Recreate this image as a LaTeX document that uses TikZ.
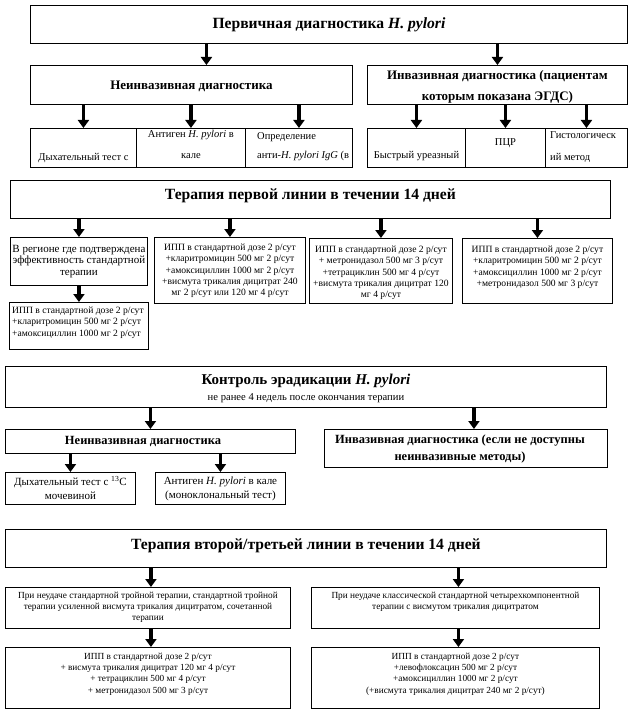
\documentclass[tikz,border=0pt]{standalone}
\usepackage{fontspec}
\setmainfont{Liberation Serif}
\usetikzlibrary{arrows.meta}
\tikzset{
  box/.style={draw, line width=0.9pt, inner sep=0pt, anchor=north west},
  arr/.style={line width=3.9pt, -{Triangle[width=11pt,length=8pt]}},
  txt/.style={inner sep=0pt},
  hd/.style={txt, font=\fontsize{15.6}{18}\selectfont\bfseries},
  hdc/.style={txt, font=\fontsize{15}{18}\selectfont\bfseries},
  hb/.style={txt, font=\fontsize{13}{21}\selectfont\bfseries, align=center},
  hbc/.style={txt, font=\fontsize{12.5}{17}\selectfont\bfseries, align=center},
  sm/.style={txt, font=\fontsize{10.5}{13}\selectfont},
  mid/.style={font=\fontsize{11}{11.7}\selectfont, align=center},
  tx/.style={txt, font=\fontsize{9.6}{11.2}\selectfont},
  tn/.style={txt, font=\fontsize{9.3}{11.2}\selectfont, align=center},
  gl/.style={font=\fontsize{11}{14}\selectfont, align=center}
}
\begin{document}
\begin{tikzpicture}[x=1pt,y=-1pt]
\useasboundingbox (0,0) rectangle (633,719);
% ---------- Row A
\node[box,minimum width=597pt,minimum height=38pt] (b1) at (30,5) {};
\node[hd,anchor=base] at (b1.center |- 0,29) {Первичная диагностика \textit{H. pylori}};
% ---------- Row B
\node[box,minimum width=322pt,minimum height=39pt] (ni) at (30,65) {};
\node[box,minimum width=260pt,minimum height=39pt] (inv) at (367,65) {};
\node[hb] at ([yshift=-1pt]ni.center) {Неинвазивная диагностика};
\node[hb] at ([yshift=-2pt]inv.center) {Инвазивная диагностика (пациентам\\которым показана ЭГДС)};
\coordinate (a1) at ([xshift=15pt]ni.north);
\draw[arr] (b1.south -| a1) -- (a1);
\draw[arr] (b1.south -| inv.north) -- (inv.north);
% ---------- Row C
\node[box,minimum width=106pt,minimum height=39pt] (c1) at (30,128) {};
\node[box,minimum width=109pt,minimum height=39pt] (c2) at (136,128) {};
\node[box,minimum width=107pt,minimum height=39pt] (c3) at (245,128) {};
\node[box,minimum width=98pt,minimum height=39pt] (r1) at (367,128) {};
\node[box,minimum width=80pt,minimum height=39pt] (r2) at (465,128) {};
\node[box,minimum width=82pt,minimum height=39pt] (r3) at (545,128) {};
\foreach \c in {c1,c2,c3} \draw[arr] (ni.south -| \c.north) -- (\c.north);
\foreach \c in {r1,r2,r3} \draw[arr] (inv.south -| \c.north) -- (\c.north);
\node[sm,anchor=base] at (c1.center |- 0,161) {Дыхательный тест с};
\node[sm,anchor=base] at (c2.center |- 0,138) {Антиген \textit{H. pylori} в};
\node[sm,anchor=base] at (c2.center |- 0,159) {кале};
\begin{scope}
\clip (c3.north west) rectangle (c3.south east);
\node[sm,anchor=base west] at (257,140) {Определение};
\node[sm,anchor=base west] at (257,159) {анти-\textit{H. pylori IgG} (в};
\end{scope}
\node[sm,anchor=base] at (r1.center |- 0,159) {Быстрый уреазный};
\node[sm,anchor=base] at (r2.center |- 0,146) {ПЦР};
\node[sm,anchor=base west] at (550,139) {Гистологическ};
\node[sm,anchor=base west] at (550,161) {ий метод};
% ---------- Row D
\node[box,minimum width=600pt,minimum height=38pt] (t1) at (10,180) {};
\node[hd,anchor=base] at (t1.center |- 0,200) {Терапия первой линии в течении 14 дней};
% ---------- Row E
\node[box,minimum width=137pt,minimum height=48pt,mid] (e1) at (10,237) {В регионе где подтверждена\\эффективность стандартной\\терапии};
\node[box,minimum width=139pt,minimum height=47pt] (e1b) at (9,302) {};
\node[box,minimum width=151pt,minimum height=66pt] (e2) at (154,237) {};
\node[box,minimum width=143pt,minimum height=65pt] (e3) at (309,238) {};
\node[box,minimum width=150pt,minimum height=65pt] (e4) at (462,238) {};
\foreach \c in {e1,e2,e3,e4} \draw[arr] (t1.south -| \c.north) -- (\c.north);
\draw[arr] (e1.south -| e1b.north) -- (e1b.north);
\node[tx,align=left,anchor=north west] at (12,307) {ИПП в стандартной дозе 2 р/сут\\+кларитромицин 500 мг 2 р/сут\\+амоксициллин 1000 мг 2 р/сут};
\node[tx,align=center,anchor=north] at (e2.north |- 0,244) {ИПП в стандартной дозе 2 р/сут\\+кларитромицин 500 мг 2 р/сут\\+амоксициллин 1000 мг 2 р/сут\\+висмута трикалия дицитрат 240\\мг 2 р/сут или 120 мг 4 р/сут};
\node[tx,align=center,anchor=north] at (e3.north |- 0,246) {ИПП в стандартной дозе 2 р/сут\\+ метронидазол 500 мг 3 р/сут\\+тетрациклин 500 мг 4 р/сут\\+висмута трикалия дицитрат 120\\мг 4 р/сут};
\node[tx,align=center,anchor=north] at (e4.north |- 0,246) {ИПП в стандартной дозе 2 р/сут\\+кларитромицин 500 мг 2 р/сут\\+амоксициллин 1000 мг 2 р/сут\\+метронидазол 500 мг 3 р/сут};
% ---------- Row F
\node[box,minimum width=601pt,minimum height=41pt] (ctl) at (5,366) {};
\node[hdc,anchor=base] at (ctl.center |- 0,384) {Контроль эрадикации \textit{H. pylori}};
\node[txt,font=\fontsize{10.6}{12}\selectfont,anchor=base] at (ctl.center |- 0,400) {не ранее 4 недель после окончания терапии};
\node[box,minimum width=290pt,minimum height=24pt] (ni2) at (5,429) {};
\node[box,minimum width=283pt,minimum height=38pt] (inv2) at (324,429) {};
\coordinate (a2) at ([xshift=8pt]inv2.north);
\draw[arr] (ctl.south -| ni2.north) -- (ni2.north);
\draw[arr] (ctl.south -| a2) -- (a2);
\node[hbc] at (143,441) {Неинвазивная диагностика};
\node[hbc] at (460,449) {Инвазивная диагностика (если не доступны\\неинвазивные методы)};
\node[box,minimum width=130pt,minimum height=32pt,gl] (g1) at (5,472) {Дыхательный тест с \textsuperscript{13}C\\мочевиной};
\node[box,minimum width=130pt,minimum height=32pt,gl] (g2) at (155,472) {Антиген \textit{H. pylori} в кале\\(моноклональный тест)};
\draw[arr] (ni2.south -| g1.north) -- (g1.north);
\draw[arr] (ni2.south -| g2.north) -- (g2.north);
% ---------- Row H
\node[box,minimum width=601pt,minimum height=38pt] (t2) at (5,529) {};
\node[hd,anchor=base] at (t2.center |- 0,549) {Терапия второй/третьей линии в течении 14 дней};
\node[box,minimum width=285pt,minimum height=41pt] (h1) at (5,587) {};
\node[box,minimum width=288pt,minimum height=41pt] (h2) at (311,587) {};
\node[box,minimum width=285pt,minimum height=61pt] (i1) at (5,647) {};
\node[box,minimum width=288pt,minimum height=61pt] (i2) at (311,647) {};
\coordinate (a3) at ([xshift=3pt]h1.north);
\coordinate (a4) at ([xshift=3pt]h2.north);
\draw[arr] (t2.south -| a3) -- (a3);
\draw[arr] (t2.south -| a4) -- (a4);
\draw[arr] (h1.south -| a3) -- (i1.north -| a3);
\draw[arr] (h2.south -| a4) -- (i2.north -| a4);
\node[tn,anchor=north] at (h1.north |- 0,592) {При неудаче стандартной тройной терапии, стандартной тройной\\терапии усиленной висмута трикалия дицитратом, сочетанной\\терапии};
\node[tn,anchor=north] at (h2.north |- 0,592) {При неудаче классической стандартной четырехкомпонентной\\терапии с висмутом трикалия дицитратом};
\node[tn,anchor=north] at (i1.north |- 0,653) {ИПП в стандартной дозе 2 р/сут\\+ висмута трикалия дицитрат 120 мг 4 р/сут\\+ тетрациклин 500 мг 4 р/сут\\+ метронидазол 500 мг 3 р/сут};
\node[tn,anchor=north] at (i2.north |- 0,653) {ИПП в стандартной дозе 2 р/сут\\+левофлоксацин 500 мг 2 р/сут\\+амоксициллин 1000 мг 2 р/сут\\(+висмута трикалия дицитрат 240 мг 2 р/сут)};
\end{tikzpicture}
\end{document}
